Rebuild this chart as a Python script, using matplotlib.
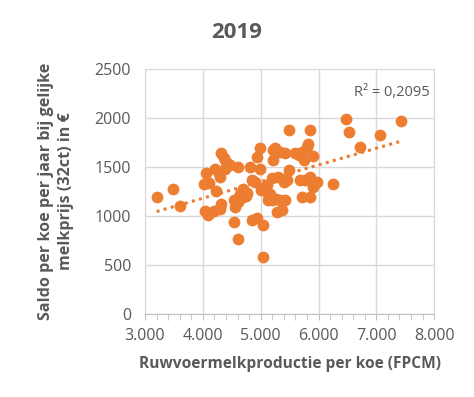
import matplotlib
matplotlib.use("Agg")
import matplotlib.pyplot as plt
from matplotlib.ticker import FuncFormatter, MultipleLocator
import numpy as np

# ruwvoermelkproductie (FPCM) per koe and saldo per koe
productie = [3200, 3485, 3605, 4050, 4020, 4105, 4045, 4095, 4195, 4230,
             4210, 4285, 4300, 4310, 4365, 4400, 4435, 4385, 4310, 4300,
             4545, 4605, 4555, 4615, 4530, 4610, 4660, 4690, 4720, 4760,
             4640, 4700, 4745, 4815, 4845, 4905, 4845, 4930, 5045, 5045,
             4930, 4990, 4990, 5005, 5075, 5105, 5120, 5165, 5200, 5220,
             5210, 5250, 5190, 5305, 5265, 5335, 5290, 5365, 5335, 5420,
             5405, 5450, 5420, 5490, 5490, 5595, 5655, 5710, 5750, 5795,
             5825, 5680, 5770, 5845, 5885, 5970, 5910, 5710, 5845, 5855,
             5910, 6255, 6470, 6530, 6720, 7055, 7430, 4470, 5110, 5150]
saldo = [1195, 1275, 1100, 1440, 1330, 1335, 1050, 1010, 1055, 1260,
         1485, 1435, 1400, 1640, 1590, 1555, 1535, 1485, 1120, 1075,
         935, 770, 1095, 1500, 1160, 1140, 1180, 1260, 1205, 1235,
         1230, 1280, 1200, 1500, 1370, 1350, 960, 975, 910, 580,
         1605, 1690, 1485, 1265, 1300, 1250, 1165, 1230, 1160, 1670,
         1575, 1690, 1385, 1400, 1175, 1165, 1045, 1060, 1655, 1640,
         1350, 1365, 1165, 1880, 1470, 1640, 1620, 1655, 1570, 1705,
         1740, 1365, 1365, 1400, 1350, 1350, 1300, 1195, 1195, 1880,
         1615, 1325, 1995, 1855, 1705, 1825, 1970, 1520, 1320, 1190]

oranje = "#ed7d31"
grijs = "#595959"
lijn = "#d9d9d9"
plt.rcParams['font.family'] = ['Open Sans', 'DejaVu Sans']

fig = plt.figure(figsize=(4.74, 3.97), dpi=100)
ax = fig.add_axes([0.306, 0.209, 0.61, 0.617])

ax.scatter(productie, saldo, s=72, color=oranje, zorder=3, linewidths=0)

# lineaire trendlijn
a, b = np.polyfit(productie, saldo, 1)
xs = np.array([min(productie), max(productie)])
ax.plot(xs, a * xs + b, color=oranje, linestyle=(0, (1, 1.4)), linewidth=2.2, zorder=2)

ax.text(0.985, 0.905, "R² = 0,2095", transform=ax.transAxes, ha="right", va="center",
        fontsize=10.5, color=grijs)

ax.set_xlim(3000, 8000)
ax.set_ylim(0, 2500)
ax.xaxis.set_major_locator(MultipleLocator(1000))
ax.xaxis.set_minor_locator(MultipleLocator(200))
ax.yaxis.set_major_locator(MultipleLocator(500))
ax.xaxis.set_major_formatter(FuncFormatter(lambda v, p: f"{int(v):,}".replace(",", ".")))

ax.grid(True, which="major", color=lijn, linewidth=1)
ax.set_axisbelow(True)
for s in ax.spines.values():
    s.set_color(lijn)
ax.spines["bottom"].set_color("#bfbfbf")
ax.tick_params(axis="x", which="both", length=4, color="#bfbfbf", labelsize=11.5,
               labelcolor=grijs, pad=6)
ax.tick_params(axis="y", length=0, labelsize=11.5, labelcolor=grijs, pad=10)

ax.set_xlabel("Ruwvoermelkproductie per koe (FPCM)", fontsize=11.2, fontweight="bold",
              color=grijs, labelpad=9)
ax.set_ylabel("Saldo per koe per jaar bij gelijke\nmelkprijs (32ct) in €", fontsize=11.6,
              fontweight="bold", color=grijs, labelpad=15, linespacing=1.3)
fig.text(0.5, 0.918, "2019", ha="center", va="center", fontsize=16, fontweight="bold",
         color=grijs)

fig.savefig("out.png", dpi=100)
